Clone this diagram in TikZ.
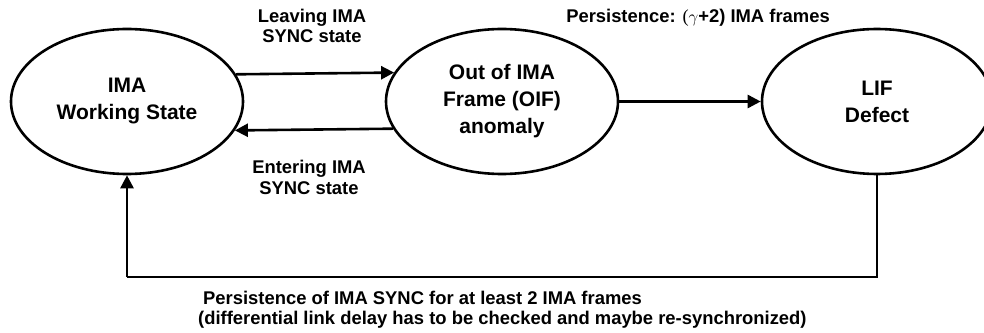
\documentclass[tikz,border=0pt]{standalone}
\usepackage{fontspec}
\setmainfont{Liberation Sans}
\usetikzlibrary{arrows.meta,shapes.geometric}
\begin{document}
\begin{tikzpicture}[x=1pt,y=1pt,
  state/.style={ellipse,draw,line width=2.6pt,minimum width=232pt,minimum height=145pt,inner sep=0pt,align=center,font=\fontsize{21}{27}\selectfont\bfseries},
  lbl/.style={align=center,font=\fontsize{18.4}{20.5}\selectfont\bfseries,inner sep=0pt},
  conn/.style={line width=2.6pt,-{Triangle[length=13pt,width=13pt]}}]
\useasboundingbox (0,0) rectangle (984,332);
\node[state] (wk) at (127,230.5) {IMA\\Working State};
\node[state] (oif) at (502,230.5) {Out of IMA\\Frame (OIF)\\anomaly};
\node[state,minimum width=230pt] (lif) at (877,230.5) {LIF\\Defect};
\draw[conn] (wk.14.5) -- (oif.165.5);
\draw[conn] (oif.194.5) -- (wk.345.5);
\draw[conn] (oif.east) -- (lif.west);
\coordinate (c1) at (877,55);
\coordinate (c2) at (127,55);
\draw[line width=2.6pt] (lif.south) -- (c1) -- (c2);
\draw[conn] (c2) -- (wk.south);
\node[lbl] (l1) at (312,306) {Leaving IMA\\SYNC state};
\node[lbl] (l2) at (309,154.5) {Entering IMA\\SYNC state};
\node[lbl] (l3) at (698,314) {Persistence: {\mdseries\fontspec{Liberation Serif}($\gamma$}+2) IMA frames};
\node[lbl,anchor=west] (l4) at (203,34) {Persistence of IMA SYNC for at least 2 IMA frames};
\node[lbl,anchor=west] (l5) at (198,12) {(differential link delay has to be checked and maybe re-synchronized)};
\end{tikzpicture}
\end{document}
